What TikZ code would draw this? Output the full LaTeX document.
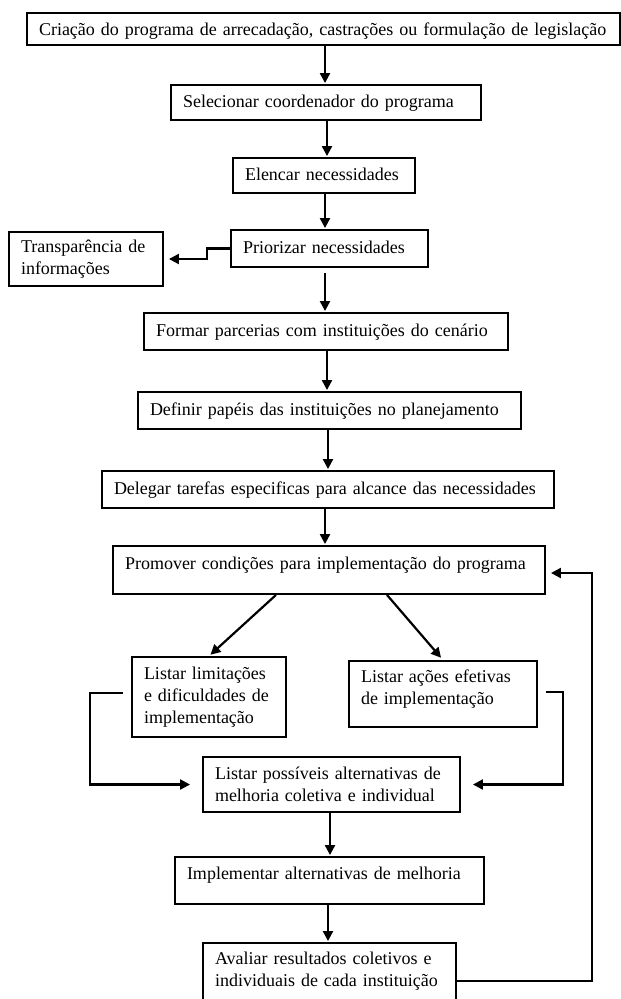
\documentclass[tikz,border=0pt]{standalone}
\usepackage{fontspec}
\setmainfont{Liberation Serif}
\usetikzlibrary{arrows.meta,calc}
\begin{document}
\begin{tikzpicture}[x=1pt,y=-1pt,
  box/.style={draw=black, line width=1.9pt, rectangle, inner xsep=12pt, inner ysep=0pt,
    align=left, font=\fontsize{18}{22}\selectfont},
  one/.style={text height=13pt, text depth=4pt},
  arr/.style={line width=2.2pt, -{Triangle[length=10pt,width=10pt]}, shorten >=1pt},
]
\useasboundingbox (0,0) rectangle (621,999);
\clip (0,0) rectangle (621,999);
\fill[white] (0,0) rectangle (621,999);

% boxes
\node[box, one, text depth=0pt, text width=569pt, minimum height=32pt] (b1) at (323.5,29)
  {\mbox{Criação do programa de arrecadação, castrações ou formulação de legislação}};
\node[box, one, text width=286pt, minimum height=35pt] (b2) at (326,102.5)
  {\mbox{Selecionar coordenador do programa}};
\node[box, one, text width=158pt, minimum height=35pt] (b3) at (324,175.5)
  {\mbox{Elencar necessidades}};
\node[box, one, text width=173pt, minimum height=37pt] (b4) at (329.5,248.5)
  {\mbox{Priorizar necessidades}};
\node[box, text width=130pt, minimum height=54pt] (tr) at (86,259)
  {\mbox{Transparência de}\\\mbox{informações}};
\node[box, one, text width=340pt, minimum height=37pt] (b5) at (326,331.5)
  {\mbox{Formar parcerias com instituições do cenário}};
\node[box, one, text width=359pt, minimum height=37pt] (b6) at (329.5,410.5)
  {\mbox{Definir papéis das instituições no planejamento}};
\node[box, one, text width=428pt, minimum height=37pt] (b7) at (328,489.5)
  {\mbox{Delegar tarefas especificas para alcance das necessidades}};
\node[box, one, text depth=15pt, text width=408pt, minimum height=48pt] (b8) at (329,570)
  {\mbox{Promover condições para implementação do programa}};
\node[box, text width=130pt, minimum height=80pt] (lim) at (209,697)
  {\mbox{Listar limitações}\\\mbox{e dificuldades de}\\\mbox{implementação}};
\node[box, text width=164pt, minimum height=66pt] (ac) at (443,694)
  {\mbox{Listar ações efetivas}\\\mbox{de implementação}\\[-8pt]\mbox{}};
\node[box, text width=233pt, minimum height=55pt] (ps) at (331.5,784.5)
  {\mbox{Listar possíveis alternativas de}\\\mbox{melhoria coletiva e individual}};
\node[box, one, text depth=15pt, text width=285pt, minimum height=47pt] (im) at (329.5,880.5)
  {\mbox{Implementar alternativas de melhoria}};
\node[box, text width=229pt, minimum height=57pt] (av) at (329.5,971.5)
  {\mbox{Avaliar resultados coletivos e}\\\mbox{individuais de cada instituição}};

% helper x positions
\coordinate (x325) at (325,0);
\coordinate (x327) at (327,0);
\coordinate (x328) at (328,0);
\coordinate (x330) at (330,0);
\coordinate (x276) at (276,0);
\coordinate (x387) at (387,0);

% vertical arrows
\draw[arr] (b1.south -| x325) -- (b2.north -| x325);
\draw[arr] (b2.south -| x327) -- (b3.north -| x327);
\draw[arr] (b3.south -| x325) -- (b4.north -| x325);
\draw[arr, shorten <=5pt] (b4.south -| x325) -- (b5.north -| x325);
\draw[arr] (b5.south -| x327) -- (b6.north -| x327);
\draw[arr] (b6.south -| x328) -- (b7.north -| x328);
\draw[arr] (b7.south -| x325) -- (b8.north -| x325);
\draw[arr] (ps.south -| x330) -- (im.north -| x330);
\draw[arr] (im.south -| x328) -- (av.north -| x328);

% side branch
\draw[arr, shorten >=5pt] (b4.west) -- ++(-23,0) |- (tr.east);

% diagonals
\draw[arr, shorten >=2pt] (b8.south -| x276) -- (lim.north);
\draw[arr, shorten >=3pt] (b8.south -| x387) -- (ac.north);

% brackets
\draw[arr, shorten >=12pt] ([xshift=-8pt,yshift=4pt]lim.west) -- ++(-33,0) |- (ps.west);
\draw[arr, shorten >=12pt] ([xshift=8pt,yshift=2pt]ac.east) -- ++(17,0) |- (ps.east);

% feedback
\draw[arr, shorten >=5pt] ([yshift=-9.5pt]av.east) -- ++(135,0) |- ([yshift=-3pt]b8.east);
\end{tikzpicture}
\end{document}
